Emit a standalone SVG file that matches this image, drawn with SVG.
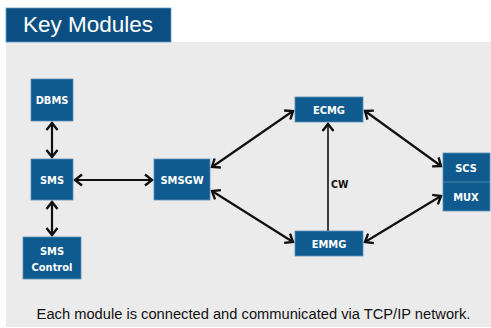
<svg xmlns="http://www.w3.org/2000/svg" width="491" height="328" viewBox="0 0 491 328">
<style>
.node rect{fill:#0f5a8e;stroke:#5b8fb8;stroke-width:0.8}
.lbl{font-family:"Liberation Sans Narrow","DejaVu Sans Condensed","Liberation Sans",sans-serif;font-weight:bold;font-size:11px;fill:#ffffff;text-anchor:middle}
.conn line{stroke:#111;stroke-width:2.2;fill:none}
</style>
<defs>
<marker id="ah" markerUnits="userSpaceOnUse" viewBox="-10 -7 12 14" refX="0" refY="0" markerWidth="12" markerHeight="14" orient="auto-start-reverse">
<path d="M-7,-5.5 L0,0 L-7,5.5" fill="none" stroke="#111" stroke-width="2.4"/>
</marker>
</defs>
<rect x="0" y="0" width="491" height="328" fill="#ffffff"/>
<rect x="6" y="42" width="485" height="285" fill="#ebebeb"/>
<g id="title">
<rect x="6" y="8" width="165" height="34" fill="#0b4f82" stroke="#6a9cc4" stroke-width="0.8"/>
<text x="23" y="32" font-family="Liberation Sans, Arial, sans-serif" font-size="22.5" fill="#ffffff">Key Modules</text>
</g>
<g class="conn" id="connectors">
<line x1="52" y1="123" x2="52" y2="157" marker-start="url(#ah)" marker-end="url(#ah)"/>
<line x1="52" y1="202" x2="52" y2="235" marker-start="url(#ah)" marker-end="url(#ah)"/>
<line x1="75" y1="180" x2="152" y2="180" marker-start="url(#ah)" marker-end="url(#ah)"/>
<line x1="212" y1="167" x2="293" y2="111" marker-start="url(#ah)" marker-end="url(#ah)"/>
<line x1="212" y1="191" x2="293" y2="242" marker-start="url(#ah)" marker-end="url(#ah)"/>
<line x1="365" y1="111" x2="441" y2="166" marker-start="url(#ah)" marker-end="url(#ah)"/>
<line x1="365" y1="242" x2="441" y2="196" marker-start="url(#ah)" marker-end="url(#ah)"/>
<line x1="328" y1="231" x2="328" y2="124" marker-end="url(#ah)" style="stroke-width:1.6"/>
<text x="331" y="187.5" font-family="Liberation Sans Narrow, DejaVu Sans Condensed, Liberation Sans, sans-serif" font-weight="bold" font-size="10.5" fill="#111">CW</text>
</g>
<g class="node" id="dbms"><rect x="31" y="79" width="42" height="42"/><text class="lbl" x="52" y="104">DBMS</text></g>
<g class="node" id="sms"><rect x="31" y="159" width="42" height="41"/><text class="lbl" x="52" y="184">SMS</text></g>
<g class="node" id="smscontrol"><rect x="23" y="237" width="58" height="42"/><text class="lbl" x="52" y="255">SMS</text><text class="lbl" x="52" y="271">Control</text></g>
<g class="node" id="smsgw"><rect x="154" y="159" width="56" height="41"/><text class="lbl" x="182" y="184">SMSGW</text></g>
<g class="node" id="ecmg"><rect x="295" y="97" width="68" height="25"/><text class="lbl" x="329" y="113.5">ECMG</text></g>
<g class="node" id="emmg"><rect x="295" y="231" width="68" height="25"/><text class="lbl" x="329" y="247.5">EMMG</text></g>
<g class="node" id="scsmux"><rect x="443" y="153" width="47" height="58"/><line x1="443" y1="182" x2="490" y2="182" stroke="#5b8fb8" stroke-width="0.8"/><text class="lbl" x="466" y="171.5">SCS</text><text class="lbl" x="466" y="200.5">MUX</text></g>
<text x="253.5" y="319" font-family="Liberation Sans, Arial, sans-serif" font-size="14.7" fill="#111" text-anchor="middle">Each module is connected and communicated via TCP/IP network.</text>
</svg>
